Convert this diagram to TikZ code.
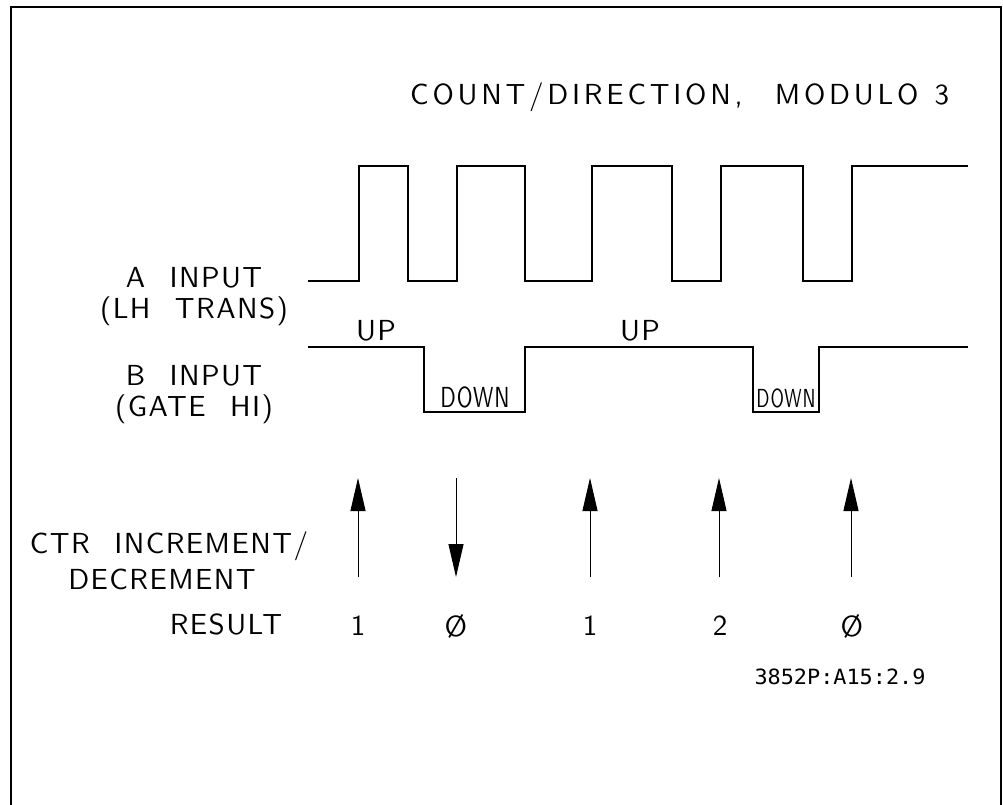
\documentclass[tikz,border=0pt]{standalone}
\usepackage{fontspec}
\setmonofont{DejaVu Sans Mono}
\newfontfamily\plotfam{lmsans10-regular.otf}[LetterSpace=5, WordSpace=2.2]
\newfontfamily\titlefam{lmsans10-regular.otf}[LetterSpace=13, WordSpace=1.2]
\usetikzlibrary{arrows.meta}

\newcommand{\plotfont}{\plotfam\fontsize{29}{31}\selectfont}
\newcommand{\titlefont}{\titlefam\fontsize{29}{31}\selectfont}
\newcommand{\codefont}{\ttfamily\fontsize{21}{23}\selectfont}

\tikzset{
  wave/.style={line width=1.3pt, line join=miter},
  tick/.style={-{Triangle[length=33pt, width=15pt]}, line width=1pt},
  lbl/.style={align=center, font=\plotfont}
}

\begin{document}
\begin{tikzpicture}[x=1pt, y=-1pt, every node/.style={inner sep=0pt, font=\plotfont}]
				\useasboundingbox (0,0) rectangle (1003,805);
				\draw[line width=1.8pt] (11,805) -- (11,7) -- (1001,7) -- (1001,805);

				\node[anchor=west, font=\titlefont] (title) at (410,97) {COUNT/DIRECTION,\ \ MODULO 3};

				% A input, LH transitions
				\node[lbl] (ain) at (194,296.5) {A INPUT\\(LH TRANS)};
				\draw[wave] (308,281) -- (359,281) -- (359,166) -- (408,166) -- (408,281)
				-- (457,281) -- (457,166) -- (525,166) -- (525,281)
				-- (592,281) -- (592,166) -- (672,166) -- (672,281)
				-- (721,281) -- (721,166) -- (803,166) -- (803,281)
				-- (852,281) -- (852,166) -- (968,166);

				% B input, gate
				\node[lbl] (bin) at (194,395) {B INPUT\\(GATE HI)};
				\draw[wave] (308,347) -- (424,347) -- (424,412) -- (525,412) -- (525,347)
				-- (753,347) -- (753,412) -- (819,412) -- (819,347) -- (968,347);

				\node (up1) at (376,331) {UP};
				\node (up2) at (640,331) {UP};
				\node[xscale=0.74] (dn1) at (475,397) {DOWN};
				\node[scale=0.9, xscale=0.7] (dn2) at (786,398) {DOWN};

				% counter steps
				\node (ctr) at (169,546) {CTR INCREMENT/};
				\node (dec) at (162,579) {DECREMENT};
				\node (res) at (226,624) {RESULT};

				\node (r1) at (358,626) {1};
				\node (r2) at (456,626) {Ø};
				\node (r3) at (590,626) {1};
				\node (r4) at (720,626) {2};
				\node (r5) at (852,626) {Ø};

				\coordinate (b1) at (358,577); \coordinate (t1) at (358,478);
				\coordinate (b2) at (456,577); \coordinate (t2) at (456,478);
				\coordinate (b3) at (590,577); \coordinate (t3) at (590,478);
				\coordinate (b4) at (719,577); \coordinate (t4) at (719,478);
				\coordinate (b5) at (851,577); \coordinate (t5) at (851,478);

				\draw[tick] (b1) -- (t1);
				\draw[tick] (t2) -- (b2);
				\draw[tick] (b3) -- (t3);
				\draw[tick] (b4) -- (t4);
				\draw[tick] (b5) -- (t5);

				\node[font=\codefont, xscale=1.04] (code) at (840,677) {3852P:A15:2.9};
\end{tikzpicture}
\end{document}
